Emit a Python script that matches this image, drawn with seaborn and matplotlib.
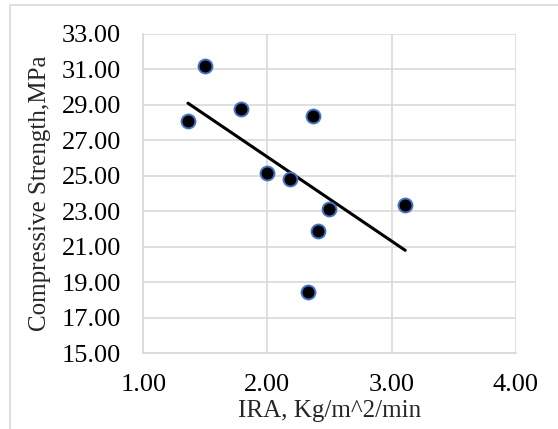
import numpy as np
import pandas as pd
import matplotlib
matplotlib.use("Agg")
import matplotlib.pyplot as plt
import seaborn as sns
from matplotlib.patches import Rectangle

ira = [1.36, 1.50, 1.79, 2.37, 2.00, 2.18, 2.50, 2.41, 2.33, 3.11]
strength = [28.10, 31.16, 28.74, 28.38, 25.16, 24.84, 23.15, 21.89, 18.46, 23.34]
x_ticks = [1.0, 2.0, 3.0, 4.0]
y_ticks = [15, 17, 19, 21, 23, 25, 27, 29, 31, 33]

df = pd.DataFrame({"IRA": ira, "Strength": strength})

sns.set_style("white")
plt.rcParams["font.family"] = ["Liberation Serif", "DejaVu Serif"]

fig = plt.figure(figsize=(5.58, 4.29), dpi=100)
fig.patches.append(Rectangle((10 / 558, -0.01), 1.0, 1 - 5 / 429 + 0.01,
                             transform=fig.transFigure, fill=False,
                             edgecolor="#d9d9d9", lw=1.2))
ax = fig.add_axes([0.2568, 0.1765, 0.9242 - 0.2568, 0.9214 - 0.1765])

sns.regplot(data=df, x="IRA", y="Strength", ax=ax, scatter=False, ci=None,
            truncate=True, line_kws=dict(color="black", lw=2.2, zorder=3))
sns.scatterplot(data=df, x="IRA", y="Strength", ax=ax, color="black",
                edgecolor="#4472C4", linewidth=1.4, s=100, zorder=4)

ax.set_xlim(1, 4)
ax.set_ylim(15, 33)
ax.set_xticks(x_ticks)
ax.set_yticks(y_ticks)
ax.set_xticklabels([f"{v:.2f}" for v in x_ticks])
ax.set_yticklabels([f"{v:.2f}" for v in y_ticks])
ax.grid(True, color="#d9d9d9", lw=1.2)
ax.set_axisbelow(True)
for s in ["top", "right"]:
    ax.spines[s].set_visible(False)
for s in ["left", "bottom"]:
    ax.spines[s].set_color("#d9d9d9")
    ax.spines[s].set_linewidth(1.2)
ax.tick_params(axis="both", which="both", direction="out", length=6,
               width=1.2, color="#d9d9d9", labelsize=19, labelcolor="black")
ax.tick_params(axis="y", pad=10)
ax.tick_params(axis="x", pad=9)
ax.set_xlabel("IRA, Kg/m^2/min", fontsize=18, labelpad=3)
ax.set_ylabel("Compressive Strength,MPa", fontsize=18, labelpad=8)

fig.savefig("out.png", dpi=100)
